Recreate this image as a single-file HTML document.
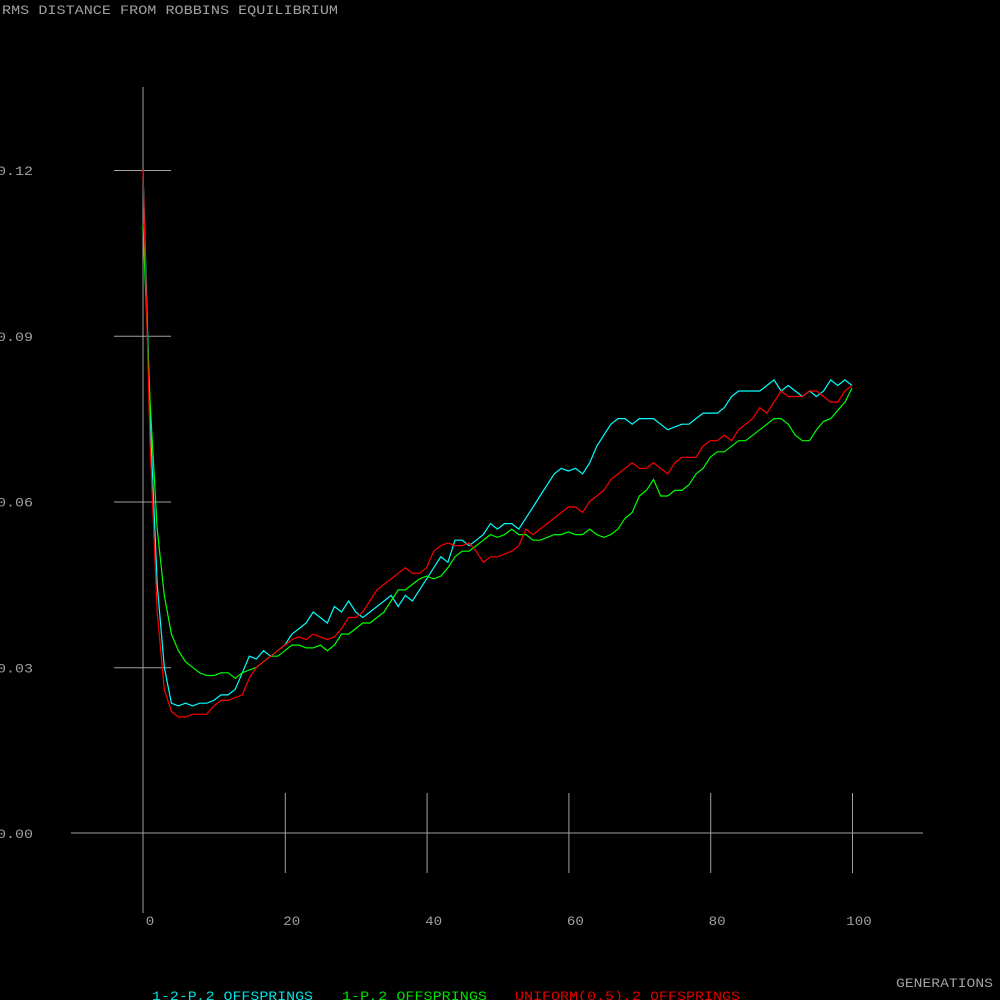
<!DOCTYPE html>
<html><head><meta charset="utf-8"><style>
html,body{margin:0;padding:0;background:#000;width:1000px;height:1000px;overflow:hidden}
svg{display:block}
text{font-family:"Liberation Mono",monospace;font-size:13px;fill:#a0a0a0}
</style></head><body>
<svg id="chart" width="1000" height="1000" viewBox="0 0 1000 1000">
<text x="2" y="14" textLength="336" lengthAdjust="spacingAndGlyphs">RMS DISTANCE FROM ROBBINS EQUILIBRIUM</text>
<g id="axes"></g>
<g id="series"></g>
<text x="896" y="987" textLength="97" lengthAdjust="spacingAndGlyphs">GENERATIONS</text>
<text x="152" y="1000" textLength="161" lengthAdjust="spacingAndGlyphs" style="fill:#00e0e0">1-2-P,2 OFFSPRINGS</text>
<text x="342" y="1000" textLength="145" lengthAdjust="spacingAndGlyphs" style="fill:#00e000">1-P,2 OFFSPRINGS</text>
<text x="515" y="1000" textLength="225" lengthAdjust="spacingAndGlyphs" style="fill:#e00000">UNIFORM(0.5),2 OFFSPRINGS</text>
</svg>
<script>
const xTicks=[0,20,40,60,80,100];
const yTicks=[0,0.03,0.06,0.09,0.12];
const yTickLabels=["0.00","0.03","0.06","0.09","0.12"];
const cyanVals=[0.12,0.075,0.045,0.03,0.0235,0.023,0.0235,0.023,0.0235,0.0235,0.024,0.025,0.025,0.026,0.029,0.032,0.0315,0.033,0.032,0.033,0.034,0.036,0.037,0.038,0.040,0.039,0.038,0.041,0.040,0.042,0.040,0.039,0.040,0.041,0.042,0.043,0.041,0.043,0.042,0.044,0.046,0.048,0.050,0.049,0.053,0.053,0.052,0.053,0.054,0.056,0.055,0.056,0.056,0.055,0.057,0.059,0.061,0.063,0.065,0.066,0.0655,0.066,0.065,0.067,0.070,0.072,0.074,0.075,0.075,0.074,0.075,0.075,0.075,0.074,0.073,0.0735,0.074,0.074,0.075,0.076,0.076,0.076,0.077,0.079,0.080,0.080,0.080,0.080,0.081,0.082,0.080,0.081,0.080,0.079,0.080,0.079,0.080,0.082,0.081,0.082,0.081];
const greenVals=[0.11,0.078,0.055,0.043,0.036,0.033,0.031,0.030,0.029,0.0285,0.0285,0.029,0.029,0.028,0.029,0.0295,0.030,0.031,0.032,0.032,0.033,0.034,0.034,0.0335,0.0335,0.034,0.033,0.034,0.036,0.036,0.037,0.038,0.038,0.039,0.040,0.042,0.044,0.044,0.045,0.046,0.0465,0.046,0.0465,0.048,0.050,0.051,0.051,0.052,0.053,0.054,0.0535,0.054,0.055,0.054,0.054,0.053,0.053,0.0535,0.054,0.054,0.0545,0.054,0.054,0.055,0.054,0.0535,0.054,0.055,0.057,0.058,0.061,0.062,0.064,0.061,0.061,0.062,0.062,0.063,0.065,0.066,0.068,0.069,0.069,0.070,0.071,0.071,0.072,0.073,0.074,0.075,0.075,0.074,0.072,0.071,0.071,0.073,0.0745,0.075,0.0765,0.078,0.0805];
const redVals=[0.12,0.07,0.04,0.026,0.022,0.021,0.021,0.0215,0.0215,0.0215,0.023,0.024,0.024,0.0245,0.025,0.028,0.030,0.031,0.032,0.033,0.034,0.035,0.0355,0.035,0.036,0.0355,0.035,0.0355,0.037,0.039,0.039,0.040,0.042,0.044,0.045,0.046,0.047,0.048,0.047,0.047,0.048,0.051,0.052,0.0525,0.052,0.052,0.0525,0.051,0.049,0.050,0.050,0.0505,0.051,0.052,0.055,0.054,0.055,0.056,0.057,0.058,0.059,0.059,0.058,0.060,0.061,0.062,0.064,0.065,0.066,0.067,0.066,0.066,0.067,0.066,0.065,0.067,0.068,0.068,0.068,0.070,0.071,0.071,0.072,0.071,0.073,0.074,0.075,0.077,0.076,0.078,0.080,0.079,0.079,0.079,0.080,0.080,0.079,0.078,0.078,0.080,0.081];
const xS=v=>143+v*7.09;
const yS=v=>833-v*5525;
const NS="http://www.w3.org/2000/svg";
const axes=document.getElementById('axes');
function mk(tag,attrs,parent){const e=document.createElementNS(NS,tag);for(const k in attrs)e.setAttribute(k,attrs[k]);parent.appendChild(e);return e;}
let l=mk('line',{x1:143,y1:87,x2:143,y2:913,stroke:'#a0a0a0'},axes);


l=mk('line',{x1:71,y1:833,x2:923,y2:833,stroke:'#a0a0a0'},axes);


yTicks.forEach((v,i)=>{
 if(v>0){const t=mk('line',{x1:114,x2:171,y1:yS(v)+0.5,y2:yS(v)+0.5,stroke:'#a0a0a0'},axes);
 
 }
 const tx=mk('text',{x:-3,y:yS(v)+5,textLength:36,lengthAdjust:'spacingAndGlyphs'},axes);tx.textContent=yTickLabels[i];
 
 
});
xTicks.forEach(v=>{
 const s=String(v);
 if(v>0){const t=mk('line',{x1:xS(v)+0.5,x2:xS(v)+0.5,y1:793,y2:873,stroke:'#a0a0a0'},axes);
 
 }
 const tx=mk('text',{x:xS(v)+7,y:925,'text-anchor':'middle',textLength:s.length*8.5,lengthAdjust:'spacingAndGlyphs'},axes);tx.textContent=s;
 
 
});
const ser=document.getElementById('series');
[[cyanVals,'#00ffff','series-1-2-p'],[greenVals,'#00ff00','series-1-p'],[redVals,'#ff0000','series-uniform']].forEach(([vals,c,n])=>{
 const p=mk('polyline',{points:vals.map((v,i)=>xS(i).toFixed(1)+','+yS(v).toFixed(1)).join(' '),fill:'none',stroke:c,'stroke-width':1.2},ser);
 
 
});
</script>
</body></html>
